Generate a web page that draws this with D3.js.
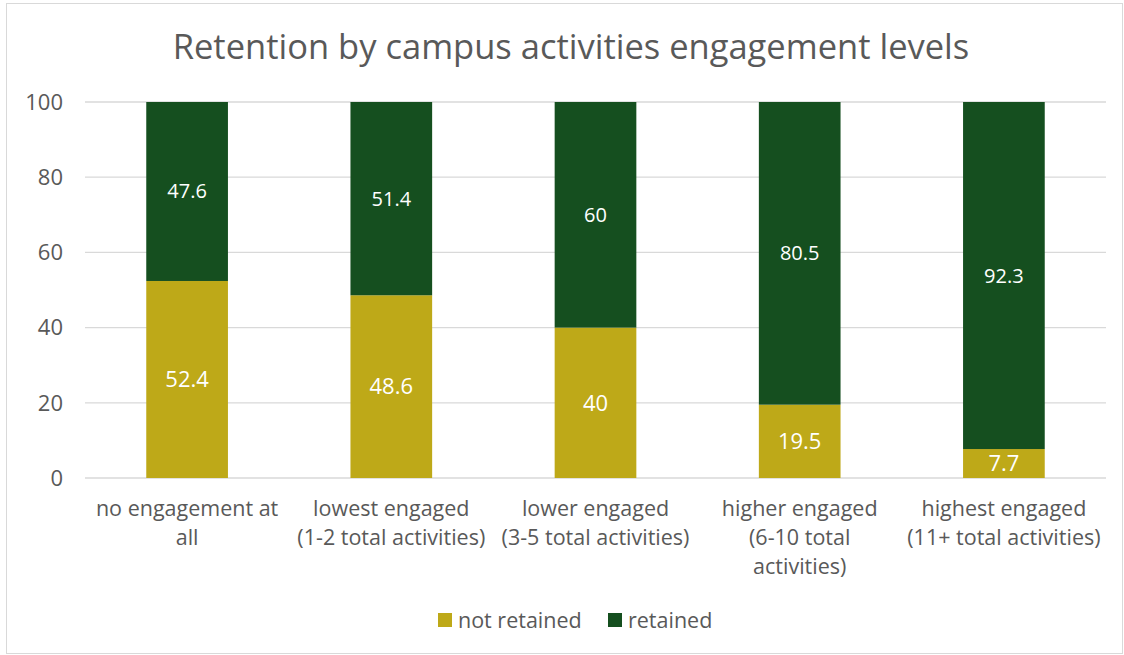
<!DOCTYPE html>
<html>
<head>
<meta charset="utf-8">
<script src="https://cdn.jsdelivr.net/npm/d3@7"></script>
<style>
  body { margin: 0; background: #fff; }
  svg text { font-family: "Open Sans", "Noto Sans", sans-serif; }
</style>
</head>
<body>
<svg width="1124" height="655"></svg>
<script>
// chart data
const categories = [
  ["no engagement at", "all"],
  ["lowest engaged", "(1-2 total activities)"],
  ["lower engaged", "(3-5 total activities)"],
  ["higher engaged", "(6-10 total", "activities)"],
  ["highest engaged", "(11+ total activities)"]
];
const notRetained = [52.4, 48.6, 40, 19.5, 7.7];
const retained = [47.6, 51.4, 60, 80.5, 92.3];
const seriesNames = ["not retained", "retained"];
const yTicks = [0, 20, 40, 60, 80, 100];

const colors = { "not retained": "#BEA918", "retained": "#154F1F" };
const textColor = "#595959";

const $svg = d3.select("svg");
const width = 1124, height = 655;

// chart frame
$svg.append("rect")
  .attr("x", 6.5).attr("y", 3.5)
  .attr("width", width - 8).attr("height", height - 5)
  .attr("fill", "#fff").attr("stroke", "#d9d9d9");

const margin = { left: 85, right: 1106, top: 102, bottom: 478 };

const x = d3.scaleBand()
  .domain(d3.range(categories.length))
  .range([margin.left, margin.right])
  .paddingInner(0.6).paddingOuter(0.3);

const y = d3.scaleLinear().domain([0, 100]).range([margin.bottom, margin.top]);

// gridlines
$svg.append("g").selectAll("line")
  .data(yTicks).enter().append("line")
  .attr("x1", margin.left).attr("x2", margin.right)
  .attr("y1", d => y(d)).attr("y2", d => y(d))
  .attr("stroke", "#d9d9d9").attr("stroke-width", 1.3);

// y tick labels
$svg.append("g").selectAll("text")
  .data(yTicks).enter().append("text")
  .attr("x", 63).attr("y", d => y(d))
  .attr("dy", "0.35em")
  .attr("text-anchor", "end")
  .attr("font-size", 22)
  .attr("fill", textColor)
  .text(d => d);

// stacked bars
const rows = categories.map((c, i) => ({ i, "not retained": notRetained[i], "retained": retained[i] }));
const stack = d3.stack().keys(seriesNames)(rows);

const layers = $svg.append("g").selectAll("g")
  .data(stack).enter().append("g")
  .attr("fill", d => colors[d.key]);

layers.selectAll("rect")
  .data(d => d).enter().append("rect")
  .attr("x", d => x(d.data.i))
  .attr("width", x.bandwidth())
  .attr("y", d => y(d[1]))
  .attr("height", d => y(d[0]) - y(d[1]));

// data labels
layers.each(function (layer) {
  d3.select(this).selectAll("text")
    .data(layer).enter().append("text")
    .attr("x", d => x(d.data.i) + x.bandwidth() / 2)
    .attr("y", d => (y(d[0]) + y(d[1])) / 2)
    .attr("dy", "0.35em")
    .attr("text-anchor", "middle")
    .attr("fill", "#fff")
    .attr("font-size", layer.key === "retained" ? 20 : 22)
    .text(d => d.data[layer.key]);
});

// x category labels
const xl = $svg.append("g").selectAll("text")
  .data(categories).enter().append("text")
  .attr("text-anchor", "middle")
  .attr("font-size", 21.5)
  .attr("fill", textColor)
  .attr("transform", (d, i) => `translate(${x(i) + x.bandwidth() / 2},516)`);
xl.selectAll("tspan")
  .data(d => d).enter().append("tspan")
  .attr("x", 0).attr("y", (d, j) => j * 29)
  .text(d => d);

// title
$svg.append("text")
  .attr("x", 571).attr("y", 47)
  .attr("dy", "0.35em")
  .attr("text-anchor", "middle")
  .attr("font-size", 34.5)
  .attr("fill", textColor)
  .text("Retention by campus activities engagement levels");

// legend
const legend = $svg.append("g");
const legendX = [438, 608];
seriesNames.forEach((s, i) => {
  legend.append("rect")
    .attr("x", legendX[i]).attr("y", 613)
    .attr("width", 14).attr("height", 14)
    .attr("fill", colors[s]);
  legend.append("text")
    .attr("x", legendX[i] + 20).attr("y", 620)
    .attr("dy", "0.35em")
    .attr("font-size", 21.5)
    .attr("fill", textColor)
    .text(s);
});
</script>
</body>
</html>
